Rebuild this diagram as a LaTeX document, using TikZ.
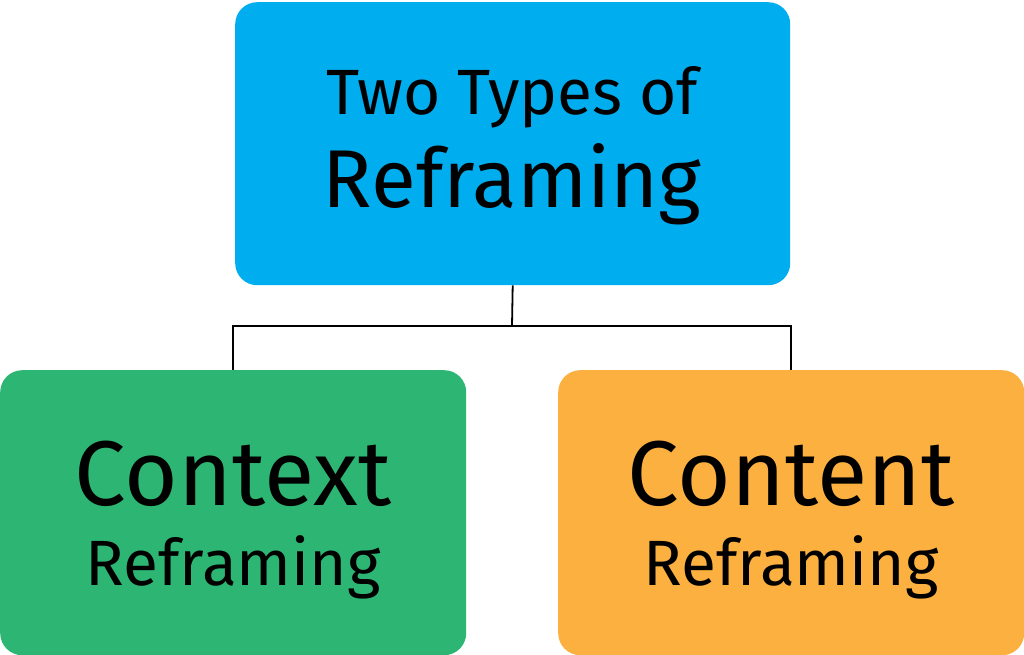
\documentclass[tikz,border=0pt]{standalone}
\usepackage{fontspec}
\setmainfont{Fira Sans}
\definecolor{cblue}{HTML}{00AEEF}
\definecolor{cgreen}{HTML}{2DB673}
\definecolor{corange}{HTML}{FBB040}
\begin{document}
\begin{tikzpicture}[x=1pt,y=-1pt,
  boxx/.style={rectangle,rounded corners=22pt,inner sep=0pt,anchor=north west},
  txt/.style={anchor=base,inner sep=0pt,text=black},
  link/.style={draw=black,line width=1.8pt}]
\useasboundingbox (0,0) rectangle (1024,655);
\node[boxx,fill=cblue,minimum width=555pt,minimum height=283pt] (top) at (235,2) {};
\node[boxx,fill=cgreen,minimum width=466pt,minimum height=285pt] (left) at (0,370) {};
\node[boxx,fill=corange,minimum width=466pt,minimum height=285pt] (right) at (558,370) {};
\node[txt,font=\fontsize{64}{64}\selectfont] (t1) at (512,115) {Two Types of};
\node[txt,font=\fontsize{82}{82}\selectfont] (t2) at (512,207) {Reframing};
\node[txt,font=\fontsize{92}{92}\selectfont] (l1) at (233,505) {Context};
\node[txt,font=\fontsize{64}{64}\selectfont] (l2) at (233,585) {Reframing};
\node[txt,font=\fontsize{92}{92}\selectfont] (r1) at (791,505) {Content};
\node[txt,font=\fontsize{64}{64}\selectfont] (r2) at (791,585) {Reframing};
\coordinate (mid) at (512,326);
\draw[link] (top.south) -- (mid);
\draw[link] (mid) -| (left.north);
\draw[link] (mid) -| (right.north);
\end{tikzpicture}
\end{document}
